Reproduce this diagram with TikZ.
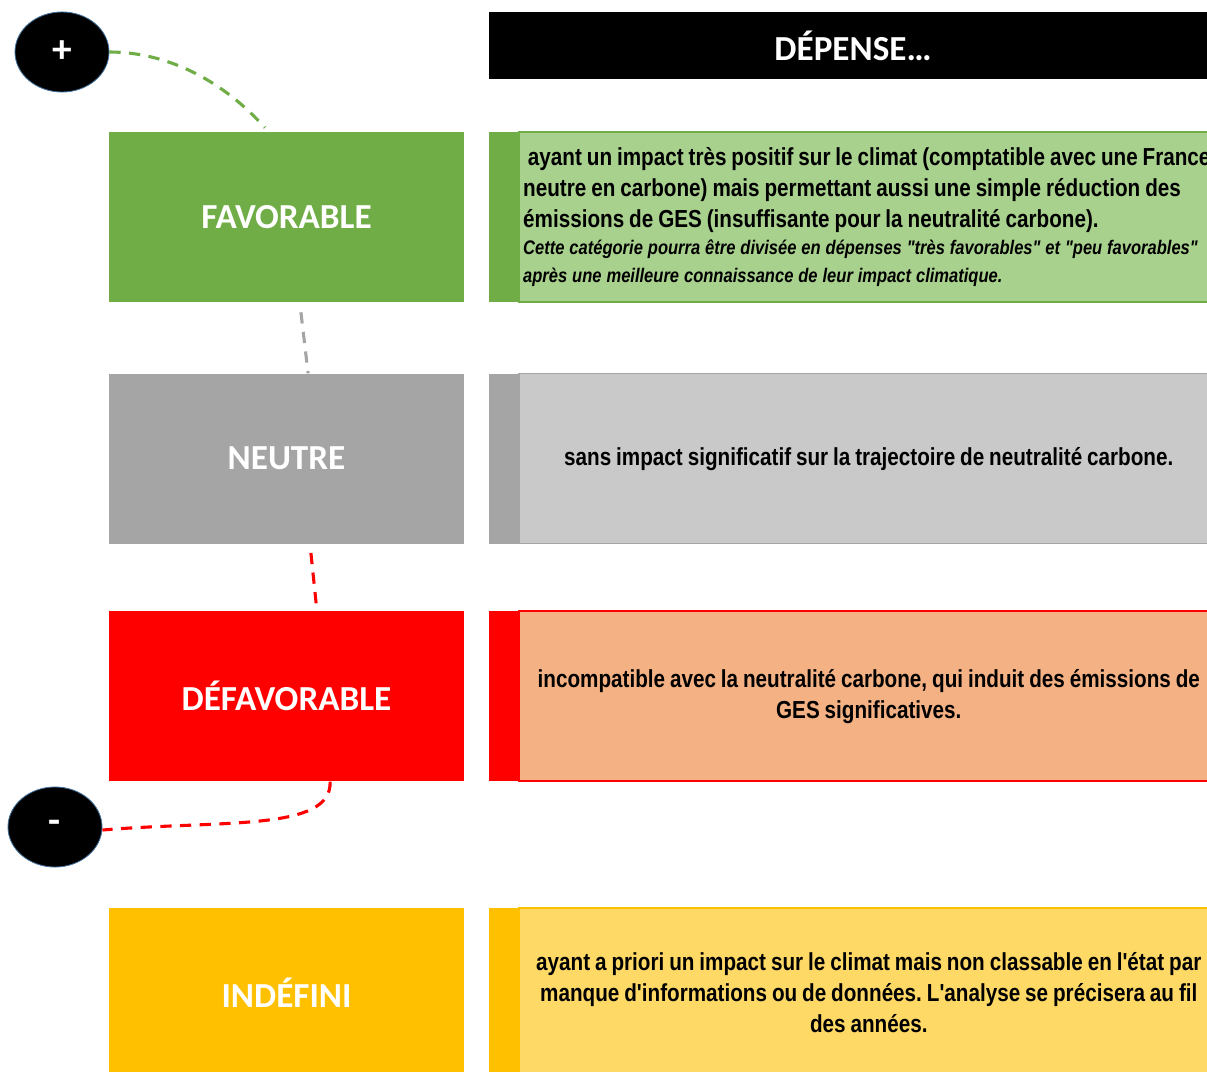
\documentclass[tikz,border=0pt]{standalone}
\usepackage{fontspec}
\newfontfamily\descfont[FakeStretch=0.84]{Liberation Sans}
\newfontfamily\labelfont{Carlito}
\usepackage{tikz}
\usetikzlibrary{positioning,shapes.geometric}
\definecolor{cgreen}{HTML}{70AD47}
\definecolor{cgreenl}{HTML}{A9D18E}
\definecolor{cgray}{HTML}{A5A5A5}
\definecolor{cgrayl}{HTML}{C9C9C9}
\definecolor{cred}{HTML}{FF0000}
\definecolor{credl}{HTML}{F4B183}
\definecolor{cgold}{HTML}{FFC000}
\definecolor{cgoldl}{HTML}{FFD966}
\definecolor{cedge}{HTML}{41719C}
\newcommand\descfit{\frenchspacing\spaceskip=0.2em\relax}

\begin{document}
\begin{tikzpicture}[x=0.025cm,y=-0.025cm,
  catbox/.style={fill=#1,text=white,minimum width=8.875cm,minimum height=4.25cm,
    font=\labelfont\bfseries\fontsize{25}{28}\selectfont},
  descbox/.style 2 args={draw=#1,fill=#2,line width=1.2pt,minimum width=17.475cm,
    minimum height=4.25cm,inner sep=0.1cm,text width=17.275cm,align=center,
    font=\descfont\bfseries\fontsize{17.5}{22}\selectfont,execute at begin node=\descfit},
  stripbox/.style={fill=#1,minimum width=0.725cm,minimum height=4.25cm,inner sep=0pt},
  signbox/.style={ellipse,fill=black,draw=cedge,line width=0.6pt,text=white,
    minimum width=2.35cm,minimum height=2cm,font=\labelfont\bfseries\fontsize{28}{28}\selectfont},
  dashconn/.style={draw=#1,line width=2.2pt,dash pattern=on 8pt off 6pt}]
  \clip (0,0) rectangle (1207,1071);
  \fill[white] (0,0) rectangle (1207,1071);

  % header
  \node[fill=black,text=white,minimum width=18.2cm,minimum height=1.675cm,
    font=\labelfont\bfseries\fontsize{25}{28}\selectfont] (hdr) at (853,45.5) {DÉPENSE…};

  % categories
  \node[catbox=cgreen] (fav) at (286.5,217) {FAVORABLE};
  \node[catbox=cgray,below=1.775cm of fav] (neu) {NEUTRE};
  \node[catbox=cred,below=1.675cm of neu] (def) {DÉFAVORABLE};
  \node[catbox=cgold,below=3.15cm of def] (ind) {INDÉFINI};

  % descriptions
  \node[descbox={cgreen}{cgreenl},align=left,right=1.35cm of fav] (dfav)
    {\mbox{\hspace*{0.12cm}ayant un impact très positif sur le climat (comptatible avec une France}\\
    \mbox{neutre en carbone) mais permettant aussi une simple réduction des}\\
    \mbox{émissions de GES (insuffisante pour la neutralité carbone).}\par
    \itshape\fontsize{14}{19.5}\selectfont\mbox{Cette catégorie pourra être divisée en dépenses "très favorables" et "peu favorables"}\\[-2.5pt]
    \mbox{après une meilleure connaissance de leur impact climatique.}};
  \node[descbox={cgray}{cgrayl},right=1.35cm of neu] (dneu)
    {sans impact significatif sur la trajectoire de neutralité carbone.};
  \node[descbox={cred}{credl},right=1.35cm of def] (ddef)
    {\mbox{incompatible avec la neutralité carbone, qui induit des émissions de}\\GES significatives.};
  \node[descbox={cgold}{cgoldl},right=1.35cm of ind] (dind)
    {\mbox{ayant a priori un impact sur le climat mais non classable en l'état par}\\
    \mbox{manque d'informations ou de données. L'analyse se précisera au fil}\\des années.};
  \node[stripbox=cgreen,left=0pt of dfav] (sfav) {};
  \node[stripbox=cgray,left=0pt of dneu] (sneu) {};
  \node[stripbox=cred,left=0pt of ddef] (sdef) {};
  \node[stripbox=cgold,left=0pt of dind] (sind) {};

  % plus / minus
  \node[signbox] (plus) at (62,52) {+};
  \node[signbox] (minus) at (55,827) {-};

  % dashed connectors
  \draw[dashconn=cgreen] (plus.east) .. controls +(60,0) and +(-40,-45) .. ([xshift=-0.54cm,yshift=0.1cm]fav.north);
  \draw[dashconn=cgray] ([xshift=0.36cm,yshift=-0.25cm]fav.south) -- ([xshift=0.54cm]neu.north);
  \draw[dashconn=cred] ([xshift=0.61cm,yshift=-0.225cm]neu.south) -- ([xshift=0.76cm]def.north);
  \draw[dashconn=cred] ([xshift=1.09cm]def.south) .. controls +(2,50) and +(120,-10) .. ([yshift=-0.075cm]minus.east);
\end{tikzpicture}
\end{document}
